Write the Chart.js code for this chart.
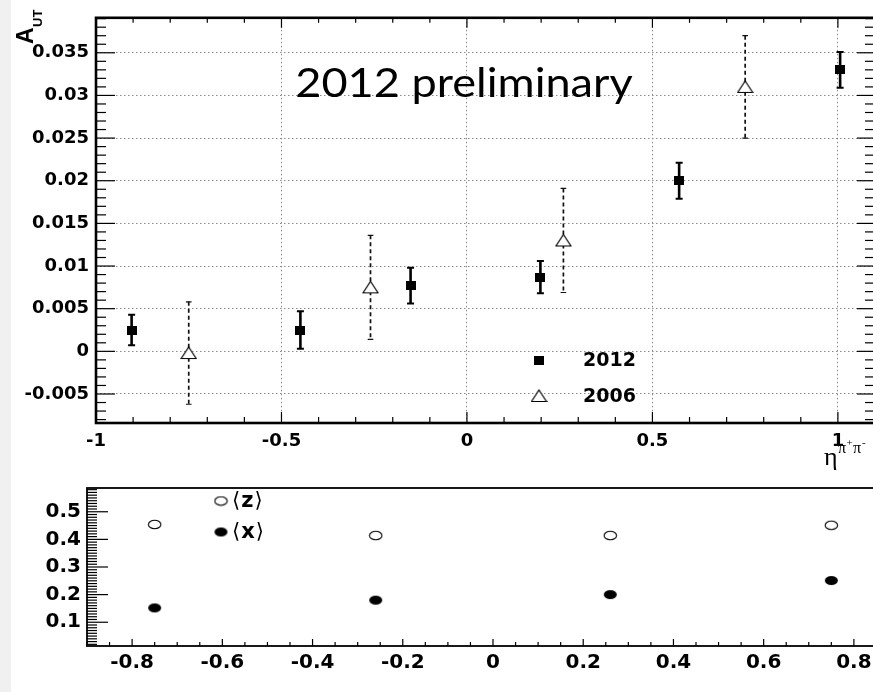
<!DOCTYPE html>
<html><head><meta charset="utf-8">
<script src="https://cdn.jsdelivr.net/npm/chart.js@4/dist/chart.umd.min.js"></script>
<style>
html,body{margin:0;padding:0;background:#fff;width:873px;height:692px;overflow:hidden}
#wrap{position:relative;width:873px;height:692px;overflow:hidden;background:#fff}
#strip{position:absolute;left:0;top:0;width:11px;height:692px;background:#f0f0f0}
canvas{position:absolute;left:0}
#c1{top:0}
#c2{top:470px}
</style></head><body>
<div id="wrap">
<div id="strip"></div>
<canvas id="c1" width="910" height="480"></canvas>
<canvas id="c2" width="910" height="222"></canvas>
</div>
<script>
// ---------- data ----------
const eta2012 = [-0.904, -0.449, -0.152, 0.198, 0.572, 1.006];
const aut2012 = [0.0025, 0.0025, 0.0077, 0.0087, 0.0200, 0.0330];
const err2012 = [0.0018, 0.0022, 0.0021, 0.0019, 0.0021, 0.0021];

const eta2006 = [-0.75, -0.26, 0.26, 0.75];
const aut2006 = [-0.0002, 0.0075, 0.0130, 0.0310];
const err2006 = [0.0060, 0.0061, 0.0061, 0.0060];

const etaBins = [-0.75, -0.26, 0.26, 0.75];
const meanZ = [0.454, 0.414, 0.414, 0.451];
const meanX = [0.152, 0.180, 0.200, 0.251];

const xTicksTop = [-1, -0.5, 0, 0.5, 1];
const xTickLabelsTop = ['-1', '-0.5', '0', '0.5', '1'];
const yTicksTop = [-0.005, 0, 0.005, 0.01, 0.015, 0.02, 0.025, 0.03, 0.035];
const yTickLabelsTop = ['-0.005', '0', '0.005', '0.01', '0.015', '0.02', '0.025', '0.03', '0.035'];
const xTicksBot = [-0.8, -0.6, -0.4, -0.2, 0, 0.2, 0.4, 0.6, 0.8];
const xTickLabelsBot = ['-0.8', '-0.6', '-0.4', '-0.2', '0', '0.2', '0.4', '0.6', '0.8'];
const yTicksBot = [0.1, 0.2, 0.3, 0.4, 0.5];
const yTickLabelsBot = ['0.1', '0.2', '0.3', '0.4', '0.5'];

// ---------- marker images ----------
function marker(w, h, fn) {
  const c = document.createElement('canvas'); c.width = w; c.height = h;
  fn(c.getContext('2d'), w, h); return c;
}
const mSquare = marker(10, 9, (g, w, h) => { g.fillStyle = '#000'; g.fillRect(0, 0, w, h); });
const mTriangle = marker(17, 14, (g, w, h) => {
  g.beginPath(); g.moveTo(w / 2, 1); g.lineTo(w - 1, h - 1.5); g.lineTo(1, h - 1.5); g.closePath();
  g.fillStyle = '#fff'; g.fill(); g.lineWidth = 1.2; g.strokeStyle = '#000'; g.stroke();
});
const mOpenEll = marker(15, 11, (g, w, h) => {
  g.beginPath(); g.ellipse(w / 2, h / 2, 6.2, 4.3, 0, 0, Math.PI * 2);
  g.fillStyle = '#fff'; g.fill(); g.lineWidth = 1.1; g.strokeStyle = '#000'; g.stroke();
});
const mFullEll = marker(15, 11, (g, w, h) => {
  g.beginPath(); g.ellipse(w / 2, h / 2, 6.5, 4.6, 0, 0, Math.PI * 2);
  g.fillStyle = '#000'; g.fill();
});

const tickFont = (s) => ({ family: 'DejaVu Sans', weight: 'bold', size: s });

function drawAxisTicks(ctx, scale, area, step, majorStep, side, majLen, minLen, lw) {
  ctx.save(); ctx.strokeStyle = '#000'; ctx.lineWidth = lw || 1;
  const start = Math.ceil(scale.min / step - 1e-6);
  const end = Math.floor(scale.max / step + 1e-6);
  for (let k = start; k <= end; k++) {
    const v = k * step;
    const r = v / majorStep;
    const isMaj = Math.abs(r - Math.round(r)) < 1e-6;
    const L = isMaj ? majLen : minLen;
    const p = scale.getPixelForValue(v);
    ctx.beginPath();
    if (side === 'bottom') { ctx.moveTo(p, area.bottom); ctx.lineTo(p, area.bottom - L); }
    if (side === 'top') { ctx.moveTo(p, area.top); ctx.lineTo(p, area.top + L); }
    if (side === 'left') { ctx.moveTo(area.left, p); ctx.lineTo(area.left + L, p); }
    if (side === 'right') { ctx.moveTo(area.right, p); ctx.lineTo(area.right - L, p); }
    ctx.stroke();
  }
  ctx.restore();
}

function drawErrors(chart, xs, ys, es, solid) {
  const ctx = chart.ctx, xs_ = chart.scales.x, ys_ = chart.scales.y;
  ctx.save();
  ctx.strokeStyle = solid ? '#000' : '#111';
  for (let i = 0; i < xs.length; i++) {
    const px = xs_.getPixelForValue(xs[i]);
    const t = ys_.getPixelForValue(ys[i] + es[i]);
    const b = ys_.getPixelForValue(ys[i] - es[i]);
    ctx.lineWidth = solid ? 2.6 : 1.7;
    ctx.setLineDash(solid ? [] : [4, 3]);
    ctx.beginPath(); ctx.moveTo(px, t); ctx.lineTo(px, b); ctx.stroke();
    ctx.setLineDash([]);
    const c = solid ? 3.5 : 2.8;
    ctx.lineWidth = solid ? 2 : 1.2;
    ctx.beginPath(); ctx.moveTo(px - c, t); ctx.lineTo(px + c, t);
    ctx.moveTo(px - c, b); ctx.lineTo(px + c, b); ctx.stroke();
  }
  ctx.restore();
}

const topPlugin = {
  id: 'topDeco',
  beforeDatasetsDraw(chart) {
    drawErrors(chart, eta2006, aut2006, err2006, false);
    drawErrors(chart, eta2012, aut2012, err2012, true);
  },
  afterDatasetsDraw(chart) {
    const ctx = chart.ctx, a = chart.chartArea, sx = chart.scales.x, sy = chart.scales.y;
    drawAxisTicks(ctx, sx, a, 0.1, 0.5, 'bottom', 11, 6, 1.2);
    drawAxisTicks(ctx, sx, a, 0.1, 0.5, 'top', 10, 5, 1.2);
    drawAxisTicks(ctx, sy, a, 0.001, 0.005, 'left', 19, 10, 1.2);
    drawAxisTicks(ctx, sy, a, 0.001, 0.005, 'right', 18, 10, 1.2);
    ctx.save();
    ctx.strokeStyle = '#000'; ctx.lineWidth = 2.6;
    ctx.strokeRect(a.left, a.top, a.right - a.left, a.bottom - a.top);
    // title text (humanist sans, slightly widened like the reference)
    ctx.fillStyle = '#000';
    ctx.save(); ctx.translate(464, 97); ctx.scale(1.1, 1);
    ctx.font = '41px Lato'; ctx.textAlign = 'center'; ctx.textBaseline = 'alphabetic';
    ctx.fillText('2012 preliminary', 0, 0);
    ctx.restore();
    // legend
    ctx.drawImage(mSquare, 539 - 5, 360 - 4.5);
    ctx.drawImage(mTriangle, 539 - 8.5, 396 - 7);
    ctx.font = 'bold 19px "DejaVu Sans"'; ctx.textAlign = 'left'; ctx.textBaseline = 'middle';
    ctx.fillText('2012', 583, 361);
    ctx.fillText('2006', 583, 397);
    // y title A_UT (rotated)
    ctx.save(); ctx.translate(33, 44); ctx.rotate(-Math.PI / 2);
    ctx.textBaseline = 'alphabetic';
    ctx.font = 'bold 23px "Liberation Sans"'; ctx.fillText('A', 0, 0);
    const wA = ctx.measureText('A').width;
    ctx.font = 'bold 13px "Liberation Sans"'; ctx.fillText('UT', wA + 0.5, 9);
    ctx.restore();
    // x title eta^{pi+pi-}
    ctx.textBaseline = 'alphabetic';
    ctx.font = '26px "Liberation Serif"'; ctx.fillText('η', 824, 465);
    ctx.font = '16px "Liberation Serif"'; ctx.fillText('π', 838, 453);
    ctx.font = '11px "Liberation Serif"'; ctx.fillText('+', 846.5, 446);
    ctx.font = '16px "Liberation Serif"'; ctx.fillText('π', 853, 453);
    ctx.font = '11px "Liberation Serif"'; ctx.fillText('-', 862, 446);
    ctx.restore();
  }
};

const botPlugin = {
  id: 'botDeco',
  afterDatasetsDraw(chart) {
    const ctx = chart.ctx, a = chart.chartArea, sx = chart.scales.x, sy = chart.scales.y;
    drawAxisTicks(ctx, sx, a, 0.05, 0.2, 'bottom', 7, 4, 1.2);
    drawAxisTicks(ctx, sy, a, 0.01, 0.1, 'left', 21, 10, 1.2);
    ctx.save();
    ctx.strokeStyle = '#000'; ctx.lineWidth = 1.8;
    ctx.strokeRect(a.left, a.top, a.right - a.left, a.bottom - a.top);
    // legend (canvas y = page y - 470)
    ctx.drawImage(mOpenEll, 221 - 7.5, 501 - 470 - 5.5);
    ctx.drawImage(mFullEll, 221 - 7.5, 532 - 470 - 5.5);
    ctx.fillStyle = '#000'; ctx.textBaseline = 'middle'; ctx.textAlign = 'left';
    const items = [['z', 501 - 470], ['x', 532 - 470]];
    for (const [s, y] of items) {
      let x = 232;
      ctx.font = '21px "DejaVu Sans"'; ctx.fillText('⟨', x, y + 1); x += ctx.measureText('⟨').width + 1;
      ctx.font = 'bold 21px "DejaVu Sans"'; ctx.fillText(s, x, y + 1); x += ctx.measureText(s).width + 1;
      ctx.font = '21px "DejaVu Sans"'; ctx.fillText('⟩', x, y + 1);
    }
    ctx.restore();
  }
};

Chart.defaults.devicePixelRatio = 1;

new Chart(document.getElementById('c1'), {
  type: 'scatter',
  data: {
    datasets: [
      { label: '2012', data: eta2012.map((x, i) => ({ x, y: aut2012[i] })), pointStyle: mSquare, pointRadius: 5 },
      { label: '2006', data: eta2006.map((x, i) => ({ x, y: aut2006[i] })), pointStyle: mTriangle, pointRadius: 7 }
    ]
  },
  options: {
    responsive: false, animation: false, devicePixelRatio: 1,
    layout: { padding: { left: 0, top: 9, right: 35, bottom: 0 } },
    plugins: { legend: { display: false }, tooltip: { enabled: false } },
    scales: {
      x: {
        type: 'linear', min: -1, max: 1.1, bounds: 'data',
        afterBuildTicks: s => { s.ticks = xTicksTop.map(v => ({ value: v })); },
        afterFit: s => { s.height = 57; },
        grid: { color: '#8a8a8a', lineWidth: 1, drawTicks: false },
        border: { display: false, dash: [1.5, 2.5] },
        ticks: { padding: 8, color: '#000', font: tickFont(18), maxRotation: 0, autoSkip: false,
          callback: v => xTickLabelsTop[xTicksTop.indexOf(v)] }
      },
      y: {
        type: 'linear', min: -0.0084, max: 0.0391, bounds: 'data',
        afterBuildTicks: s => { s.ticks = yTicksTop.map(v => ({ value: v })); },
        afterFit: s => { s.width = 96; },
        grid: { color: '#8a8a8a', lineWidth: 1, drawTicks: false },
        border: { display: false, dash: [1.5, 2.5] },
        ticks: { padding: 7, color: '#000', font: tickFont(18), autoSkip: false,
          callback: v => yTickLabelsTop[yTicksTop.indexOf(v)] }
      }
    }
  },
  plugins: [topPlugin]
});

new Chart(document.getElementById('c2'), {
  type: 'scatter',
  data: {
    datasets: [
      { label: '<z>', data: etaBins.map((x, i) => ({ x, y: meanZ[i] })), pointStyle: mOpenEll, pointRadius: 6 },
      { label: '<x>', data: etaBins.map((x, i) => ({ x, y: meanX[i] })), pointStyle: mFullEll, pointRadius: 6 }
    ]
  },
  options: {
    responsive: false, animation: false, devicePixelRatio: 1,
    layout: { padding: { left: 0, top: 10, right: 11, bottom: 0 } },
    plugins: { legend: { display: false }, tooltip: { enabled: false } },
    scales: {
      x: {
        type: 'linear', min: -0.9, max: 0.9, bounds: 'data',
        afterBuildTicks: s => { s.ticks = xTicksBot.map(v => ({ value: v })); },
        afterFit: s => { s.height = 46; },
        grid: { display: false, drawTicks: false },
        border: { display: false },
        ticks: { padding: 5, color: '#000', font: tickFont(20), maxRotation: 0, autoSkip: false,
          callback: v => xTickLabelsBot[xTicksBot.indexOf(v)] }
      },
      y: {
        type: 'linear', min: 0.014, max: 0.586, bounds: 'data',
        afterBuildTicks: s => { s.ticks = yTicksBot.map(v => ({ value: v })); },
        afterFit: s => { s.width = 87; },
        grid: { display: false, drawTicks: false },
        border: { display: false },
        ticks: { padding: 6, color: '#000', font: tickFont(20), autoSkip: false,
          callback: v => yTickLabelsBot[yTicksBot.indexOf(v)] }
      }
    }
  },
  plugins: [botPlugin]
});
</script>
</body></html>
